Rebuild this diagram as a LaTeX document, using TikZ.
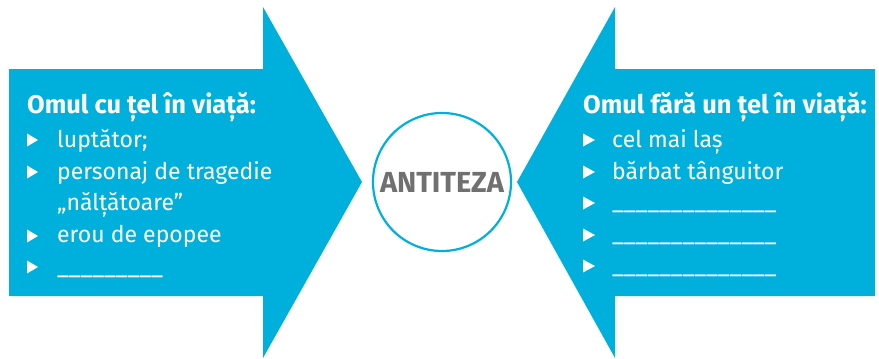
\documentclass[tikz,border=0pt]{standalone}
\usepackage{fontspec}
\setmainfont{Fira Sans}
\usepackage{tikz}
\usetikzlibrary{positioning}
\definecolor{arrowblue}{RGB}{0, 176, 220}
\definecolor{labelgray}{RGB}{112, 112, 112}

\tikzset{
  headtext/.style={anchor=base west, inner sep=0pt, text=white,
    font=\fontsize{25.5}{30}\selectfont\bfseries},
  itemtext/.style={anchor=base west, inner sep=0pt, text=white,
    font=\fontsize{23}{27}\selectfont},
}

\begin{document}
\begin{tikzpicture}[x=1pt, y=-1pt]
  \useasboundingbox (0, 0) rectangle (879, 359);

  % ── Arrows ────────────────────────────────────────────────────────────────
  \fill[arrowblue] (9, 69) -- (263, 69) -- (263, 7) -- (362, 182)
    -- (263, 358) -- (263, 296) -- (9, 296) -- cycle;
  \fill[arrowblue] (875, 69) -- (615, 69) -- (615, 7) -- (517, 182)
    -- (615, 358) -- (615, 296) -- (875, 296) -- cycle;

  % ── Centre circle ─────────────────────────────────────────────────────────
  \node[circle, draw=arrowblue, line width=2.2pt, fill=white,
    minimum size=138pt, inner sep=0pt, text=labelgray,
    font=\fontsize{29}{32}\selectfont\bfseries] (antiteza) at (442, 182)
    {ANTITEZA};

  % ── Left list ─────────────────────────────────────────────────────────────
  \node[headtext] (headL) at (27, 113) {Omul cu țel în viață:};
  \node[itemtext] (itemLa) at (57, 147) {luptător;};
  \node[itemtext] (itemLb) at (57, 179) {personaj de tragedie};
  \node[itemtext] (itemLc) at (57, 210) {„nălțătoare”};
  \node[itemtext] (itemLd) at (57, 242) {erou de epopee};
  \node[itemtext] (itemLe) at (57, 274) {\_\_\_\_\_\_\_\_\_};
  \foreach \ypos in {140, 172, 236, 267} {
    \fill[white] (27, \ypos-6.5) -- (38, \ypos) -- (27, \ypos+6.5) -- cycle;
  }

  % ── Right list ────────────────────────────────────────────────────────────
  \node[headtext] (headR) at (583, 113) {Omul fără un țel în viață:};
  \node[itemtext] (itemRa) at (612, 147) {cel mai laș};
  \node[itemtext] (itemRb) at (612, 179) {bărbat tânguitor};
  \foreach \ypos/\nm in {209/c, 241/d, 273/e} {
    \node[itemtext] (itemR\nm) at (612, \ypos)
      {\_\_\_\_\_\_\_\_\_\_\_\_\_\_};
  }
  \foreach \ypos in {140, 172, 203, 235, 266} {
    \fill[white] (583, \ypos-6.5) -- (595, \ypos) -- (583, \ypos+6.5) -- cycle;
  }
\end{tikzpicture}
\end{document}
